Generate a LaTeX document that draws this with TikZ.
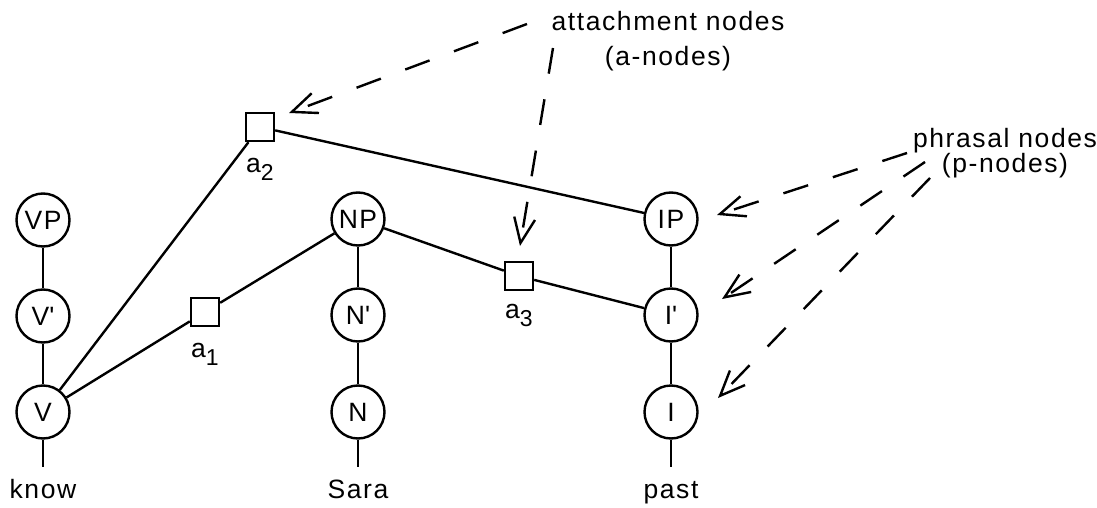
\documentclass[tikz,border=0pt]{standalone}
\usepackage{fontspec}
\setmainfont{Liberation Sans}[LetterSpace=6]
\usetikzlibrary{arrows.meta}
\newcommand{\sublow}[1]{\raisebox{-8pt}{\fontsize{23}{23}\selectfont #1}}

\begin{document}
\begin{tikzpicture}[x=1pt,y=-1pt,line width=2.4pt,
    font=\fontsize{26.5}{30}\selectfont,
    pnode/.style={draw,circle,minimum size=53pt,inner sep=0pt},
    anode/.style={draw,rectangle,minimum size=28pt,inner sep=0pt},
    word/.style={anchor=base,inner sep=0pt},
    pointer/.style={dash pattern=on 26pt off 26pt,
        -{Straight Barb[length=25pt,width=21pt]}}]
                \useasboundingbox (0,0) rectangle (1097,508);
                \node[pnode] (VP) at (43,220) {VP};
                \node[pnode] (V1) at (43,316) {V\textquotesingle};
                \node[pnode] (V) at (43,412) {V};
                \node[pnode] (NP) at (358,219) {NP};
                \node[pnode] (N1) at (358,315) {N\textquotesingle};
                \node[pnode] (N) at (358,412) {N};
                \node[pnode] (IP) at (671,219) {IP};
                \node[pnode] (I1) at (671,315) {I\textquotesingle};
                \node[pnode] (I) at (671,412) {I};
                \node[word] (know) at (43,498) {know};
                \node[word] (sara) at (358,498) {Sara};
                \node[word] (past) at (671,498) {past};
                \node[anode] (a1) at (205,312) {};
                \node[anode] (a2) at (260,127) {};
                \node[anode] (a3) at (519,276) {};
                \node[word] at (205,357) {a\sublow{1}};
                \node[word] at (260,172) {a\sublow{2}};
                \node[word] at (519,318) {a\sublow{3}};
                \node[anchor=north,align=center,inner sep=0pt] (anodes) at (668,10)
                    {attachment nodes\\[5pt](a-nodes)};
                \node[anchor=north,align=center,inner sep=0pt] (pnodes) at (1005,127)
                    {phrasal nodes\\[-5pt](p-nodes)};
                \draw (VP) -- (V1) -- (V);
                \draw (NP) -- (N1) -- (N);
                \draw (IP) -- (I1) -- (I);
                \foreach \n in {V,N,I}
                    \draw (\n.south) -- ++(0,27);
                \draw (V) -- (a1) -- (NP) -- (a3) -- (I1);
                \draw (V) -- (a2) -- (IP);
                \coordinate (fromA1) at (527,24);
                \coordinate (fromA2) at (553,48);
                \coordinate (toA2) at (289,113);
                \coordinate (toA3) at (520,246);
                \coordinate (fromP1) at (907,153);
                \coordinate (fromP2) at (925,162);
                \coordinate (fromP3) at (930,178);
                \coordinate (toIP) at (717,215);
                \coordinate (toI1) at (722,299);
                \coordinate (toI) at (718,398);
                \draw[pointer] (fromA1) -- (toA2);
                \draw[pointer] (fromA2) -- (toA3);
                \draw[pointer] (fromP1) -- (toIP);
                \draw[pointer] (fromP2) -- (toI1);
                \draw[pointer] (fromP3) -- (toI);
            \end{tikzpicture}
\end{document}
